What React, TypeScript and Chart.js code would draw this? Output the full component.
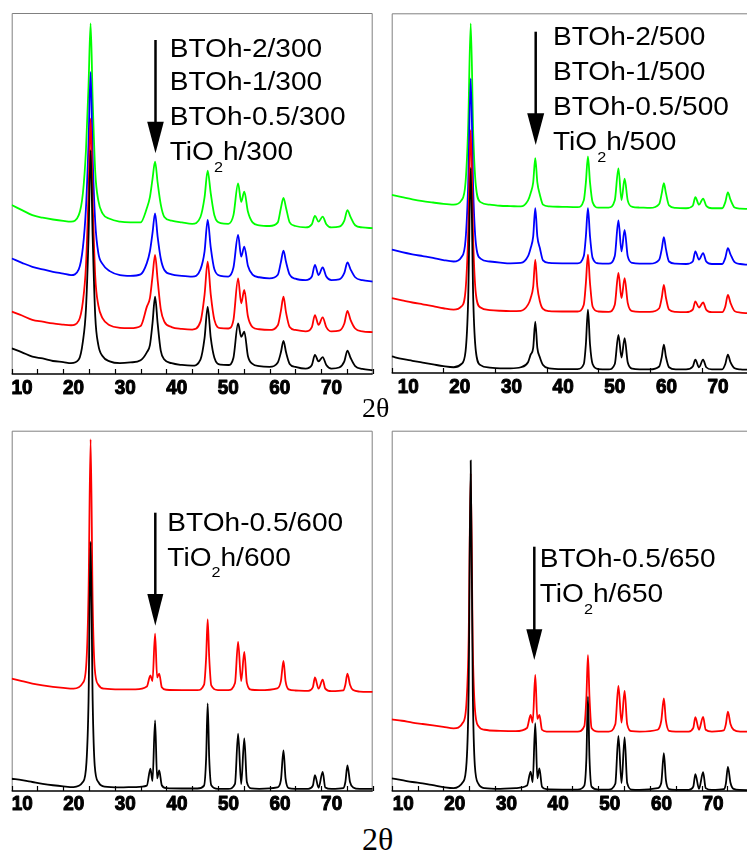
import React, { useEffect, useRef } from 'react';
import { Chart, registerables } from 'chart.js';

Chart.register(...registerables);

// ---------- data (2θ grids and intensities, arbitrary units 0–100 of panel height) ----------
const X_300 = [10, 12, 14, 16, 18, 20, 21.5, 23, 23.8, 24.4, 24.9, 25.3, 25.7, 26.2, 26.8, 27.6, 29, 31, 33, 35, 36.2, 36.8, 37.3, 37.8, 38.3, 38.9, 39.6, 41, 43, 45, 46.6, 47.4, 48.0, 48.6, 49.3, 50.5, 52, 53.0, 53.9, 54.5, 55.1, 55.8, 56.7, 58, 60, 61.6, 62.2, 62.7, 63.2, 63.9, 65, 67, 68.2, 68.8, 69.5, 70.3, 71.0, 72, 73.5, 74.5, 75.1, 75.7, 76.6, 78, 80];
const TIO2_300 = [7.1, 6.0, 4.8, 4.3, 3.6, 3.3, 3.0, 4.0, 9, 18, 38, 62, 38, 16, 8, 5, 3.5, 3.0, 3.2, 3.8, 6.0, 8, 14, 21.4, 14, 6.5, 4.0, 3.0, 2.5, 2.3, 4.0, 10, 18.6, 10, 4.5, 2.6, 2.5, 4.5, 14.0, 10.3, 11.7, 5.0, 2.8, 2.2, 2.0, 3.2, 6.0, 9.2, 6.0, 2.8, 2.0, 1.5, 2.5, 5.3, 3.5, 4.7, 2.5, 1.5, 1.8, 3.5, 6.5, 4.5, 2.2, 1.4, 1.1];
const BTO05_300 = [17.3, 16.2, 15.0, 14.5, 14.0, 13.7, 13.5, 14.8, 20, 30, 50, 70.8, 48, 27, 19, 15.5, 13.5, 12.8, 12.7, 13.3, 18.6, 21, 27, 33.0, 26, 18, 14.5, 13.0, 12.5, 12.3, 14.5, 22, 31.1, 22, 15, 12.7, 12.6, 15, 26.5, 19.6, 23.3, 16, 13, 12.4, 12.2, 13.5, 17.5, 21.4, 17, 13, 12.2, 11.8, 13, 16.3, 13.6, 15.7, 13, 11.8, 12, 14, 17.5, 15, 12.6, 11.8, 11.6];
const BTO1_300 = [32.0, 30.8, 29.7, 29.0, 28.3, 27.8, 27.4, 29, 35, 46, 64, 83.7, 60, 42, 33.5, 30.5, 28.5, 27.4, 27.2, 27.6, 30.7, 34, 39, 44.5, 38, 32, 28.8, 27.6, 27.2, 27.0, 29, 34, 42.7, 35, 29, 27.2, 27, 29.5, 38.5, 32.5, 35.3, 30, 27.5, 26.8, 26.5, 27.5, 31, 34.2, 31, 27.5, 26.4, 26, 27, 30.2, 27.4, 29.5, 27, 26, 26.2, 28, 30.9, 29, 26.8, 26, 25.6];
const BTO2_300 = [46.8, 45.4, 44.0, 43.3, 42.8, 42.4, 42.2, 44, 50, 62, 80, 97.1, 76, 56, 48, 44.5, 43, 42.2, 42, 42, 45.9, 49, 54, 58.8, 53, 47, 43.5, 42.5, 42, 41.6, 43.5, 49, 56.3, 50, 44, 41.8, 41.6, 44, 52.8, 47.7, 50.5, 45, 42, 41.2, 41, 42, 46, 48.8, 46, 42, 41, 40.6, 41.5, 43.8, 42.2, 43.6, 41.5, 40.6, 40.8, 42.5, 45.4, 43.5, 41.2, 40.6, 40.4];

const X_500 = [10, 12, 14, 16, 18, 20, 22, 23.5, 24.3, 24.8, 25.3, 25.8, 26.3, 27.2, 29, 31, 33, 35, 36.4, 36.9, 37.4, 37.8, 38.2, 38.7, 39.3, 40.5, 43, 46, 47.2, 47.6, 48.0, 48.4, 48.9, 50, 52, 53.2, 53.9, 54.5, 55.1, 55.7, 56.6, 58, 60, 61.8, 62.3, 62.7, 63.1, 63.7, 65, 67, 68.3, 68.8, 69.5, 70.3, 70.9, 72, 74, 74.6, 75.1, 75.6, 76.4, 77.5, 79];
const TIO2_500 = [4.6, 3.9, 3.4, 2.9, 2.4, 1.9, 1.6, 2.5, 6, 20, 57, 20, 6, 2.2, 1.5, 1.3, 1.3, 1.6, 3.0, 5.1, 7, 14.3, 7, 4.3, 2.2, 1.3, 1.1, 1.1, 2.5, 8, 17.6, 8, 2.5, 1.1, 1.0, 2.5, 10.6, 4.3, 9.7, 3, 1.2, 1.0, 1.0, 1.8, 4.5, 7.9, 4.5, 1.6, 1.0, 1.0, 1.8, 3.7, 1.6, 3.7, 1.6, 1.0, 1.0, 2.5, 5.1, 3.0, 1.3, 1.0, 0.9];
const BTO05_500 = [20.8, 20.2, 19.6, 19.1, 18.6, 18.0, 17.6, 18.5, 23, 38, 67.6, 36, 22, 18.2, 17.5, 17.3, 17.2, 17.3, 19, 20.8, 24, 31.5, 24, 19.9, 17.8, 17.2, 17.1, 17.1, 19, 25, 32.9, 25, 18.5, 17.1, 17.0, 19, 27.8, 20.8, 26.4, 19.5, 17.2, 17.0, 17.0, 18, 21, 24.5, 21, 17.6, 17.0, 16.9, 17.6, 19.9, 18.2, 19.6, 17.6, 16.9, 16.9, 18.5, 21.7, 19.5, 17.2, 16.8, 16.6];
const BTO1_500 = [34.3, 33.6, 33.0, 32.5, 32.0, 31.4, 31.0, 32.2, 37, 52, 81.9, 50, 36, 31.8, 31.0, 30.7, 30.5, 30.6, 32.5, 34.7, 38, 45.8, 38, 34.7, 31.3, 30.6, 30.5, 30.5, 32.5, 38, 45.8, 38, 32, 30.5, 30.4, 32.5, 42.4, 33.8, 39.8, 32.5, 30.6, 30.4, 30.4, 31.5, 34.5, 37.8, 34.5, 31, 30.4, 30.3, 31, 33.8, 31.5, 33.3, 31, 30.3, 30.3, 32, 34.7, 33, 30.8, 30.3, 30.1];
const BTO2_500 = [49.5, 48.9, 48.3, 47.8, 47.4, 47.0, 46.8, 48, 53, 68, 97.2, 66, 52, 47.5, 46.8, 46.5, 46.4, 46.3, 48, 50.0, 53, 59.7, 53, 49.5, 46.8, 46.3, 46.2, 46.1, 48, 53, 60.2, 53, 47.5, 46, 46, 48, 56.9, 48.1, 54.0, 48, 46.2, 46, 45.9, 47, 50, 52.8, 50, 46.6, 45.9, 45.8, 46.5, 48.9, 46.8, 48.5, 46.5, 45.8, 45.8, 47.5, 50.2, 48.2, 46, 45.7, 45.6];

const X_HT = [10, 12, 14, 16, 18, 20, 22, 23.8, 24.5, 24.9, 25.3, 25.7, 26.1, 26.8, 28, 31, 34, 36.2, 36.9, 37.3, 37.8, 38.2, 38.6, 39.1, 40, 43, 46, 47.3, 47.7, 48.0, 48.3, 48.7, 50, 52, 53.3, 53.9, 54.5, 55.1, 55.6, 56.5, 58, 61.5, 62.2, 62.7, 63.1, 63.7, 65, 67.5, 68.4, 68.8, 69.5, 70.3, 70.8, 72, 74.3, 74.7, 75.1, 75.6, 76.2, 77.5, 80];
const TIO2_600 = [3.4, 3.0, 2.5, 2.0, 1.6, 1.3, 1.1, 2.5, 8, 25, 69.2, 25, 7, 2.5, 1.2, 1.0, 1.1, 1.5, 6.2, 2.8, 19.6, 3.5, 5.7, 1.6, 0.8, 0.7, 0.7, 1.5, 9, 24.3, 9, 1.6, 0.6, 0.6, 2.0, 15.9, 1.9, 14.6, 2.5, 0.7, 0.6, 1.0, 3.0, 11.3, 3.5, 0.8, 0.6, 0.6, 1.5, 4.4, 0.9, 5.3, 1.0, 0.6, 0.8, 2.5, 7.1, 2.5, 1.0, 0.6, 0.6];
const BTO05_600 = [31.2, 30.5, 29.8, 29.3, 28.9, 28.6, 28.4, 30, 36, 55, 97.6, 52, 34, 29.5, 28.4, 28.2, 28.2, 29, 32.1, 30.5, 43.7, 31.5, 32.6, 28.8, 28.1, 28.0, 28.0, 29.5, 37, 47.6, 37, 29.3, 28.0, 28.0, 30, 41.4, 30.5, 38.6, 30, 28.1, 28.0, 28.5, 30.5, 36.1, 30.5, 28.2, 27.9, 27.8, 28.8, 31.5, 28.4, 30.9, 28.4, 27.7, 27.9, 29.5, 32.6, 29.5, 28, 27.6, 27.5];
const TIO2_650 = [3.5, 3.0, 2.5, 2.1, 1.6, 1.1, 0.8, 2.5, 8, 28, 91.7, 28, 7, 2.0, 0.8, 0.6, 0.8, 1.5, 5.4, 2.5, 18.8, 3.5, 6.3, 1.2, 0.5, 0.4, 0.4, 1.5, 9, 26.2, 9, 1.2, 0.4, 0.4, 2.0, 15.3, 2.2, 14.9, 2.2, 0.4, 0.3, 0.8, 2.3, 10.5, 3.0, 0.5, 0.3, 0.3, 1.2, 4.7, 0.6, 5.2, 0.8, 0.3, 0.5, 2.0, 6.7, 2.3, 0.6, 0.3, 0.2];
const BTO05_650 = [19.9, 19.5, 19.0, 18.6, 18.2, 17.8, 17.4, 19, 25, 42, 88.2, 40, 23, 18, 17, 16.7, 16.6, 17.5, 21.1, 19, 32.2, 20, 21.1, 17, 16.5, 16.5, 16.5, 18, 26, 37.7, 26, 17.5, 16.5, 16.5, 18.5, 29.2, 19, 27.8, 18.5, 16.6, 16.5, 17, 19.5, 25.7, 19.5, 16.7, 16.5, 16.5, 17.5, 20.5, 17, 20.6, 17, 16.5, 16.8, 18.5, 22.0, 18.6, 17, 16.5, 16.5];

const TICKS_5_TO_80 = [10, 15, 20, 25, 30, 35, 40, 45, 50, 55, 60, 65, 70, 75, 80];
const TICKS_5_TO_75 = [10, 15, 20, 25, 30, 35, 40, 45, 50, 55, 60, 65, 70, 75];
const TICKS_10_TO_70 = [10, 20, 30, 40, 50, 60, 70];
const TICK_LABELS = [10, 20, 30, 40, 50, 60, 70];

const LEGEND_300 = ['BTOh-2/300', 'BTOh-1/300', 'BTOh-0.5/300', 'TiO2h/300'];
const LEGEND_500 = ['BTOh-2/500', 'BTOh-1/500', 'BTOh-0.5/500', 'TiO2h/500'];
const LEGEND_600 = ['BTOh-0.5/600', 'TiO2h/600'];
const LEGEND_650 = ['BTOh-0.5/650', 'TiO2h/650'];

const BLACK = '#000000';
const RED = '#ff0000';
const BLUE = '#0000ff';
const GREEN = '#00ff00';

const SANS = '"Liberation Sans", Arial, sans-serif';

function drawLabel(ctx: CanvasRenderingContext2D, s: string, x: number, y: number) {
  ctx.save();
  ctx.translate(x, y);
  ctx.scale(1.08, 1);
  ctx.fillStyle = '#000';
  ctx.textAlign = 'left';
  ctx.textBaseline = 'alphabetic';
  ctx.font = `26px ${SANS}`;
  if (s.startsWith('TiO2')) {
    ctx.fillText('TiO', 0, 0);
    let w = ctx.measureText('TiO').width;
    ctx.font = `15px ${SANS}`;
    ctx.fillText('2', w, 11.5);
    w += ctx.measureText('2').width;
    ctx.font = `26px ${SANS}`;
    ctx.fillText(s.slice(4), w, 0);
  } else {
    ctx.fillText(s, 0, 0);
  }
  ctx.restore();
}

const decor = {
  id: 'decor',
  beforeDatasetsDraw(chart: any, _a: any, o: any) {
    const { ctx, chartArea: a } = chart;
    ctx.save();
    ctx.strokeStyle = '#808080';
    ctx.lineWidth = 1;
    ctx.beginPath();
    ctx.moveTo(a.left + 0.5, a.bottom);
    ctx.lineTo(a.left + 0.5, a.top + 0.5);
    ctx.lineTo(o.frameRight ? a.right - 0.5 : a.right, a.top + 0.5);
    if (o.frameRight) ctx.lineTo(a.right - 0.5, a.bottom);
    ctx.stroke();
    ctx.restore();
  },
  afterDraw(chart: any, _a: any, o: any) {
    const { ctx, chartArea: a } = chart;
    const xs = chart.scales.x;
    ctx.save();
    // bottom axis line
    ctx.strokeStyle = '#000';
    ctx.lineWidth = 1.5;
    ctx.beginPath();
    ctx.moveTo(a.left, a.bottom);
    ctx.lineTo(a.right, a.bottom);
    ctx.stroke();
    // inward tick marks + tick labels from the scale's ticks
    ctx.fillStyle = '#000';
    ctx.textAlign = 'center';
    ctx.textBaseline = 'alphabetic';
    for (const t of xs.ticks) {
      const px = xs.getPixelForValue(t.value);
      const rx = Math.round(px) + 0.5;
      ctx.lineWidth = 1.2;
      ctx.beginPath();
      ctx.moveTo(rx, a.bottom);
      ctx.lineTo(rx, a.bottom - 5);
      ctx.stroke();
      if (TICK_LABELS.includes(t.value)) {
        ctx.save();
        ctx.translate(px + o.labelOffset, a.bottom + o.labelDy);
        ctx.scale(0.9, 1);
        ctx.font = `bold 21px ${SANS}`;
        ctx.lineWidth = 1.1;
        ctx.lineJoin = 'round';
        ctx.strokeText(String(t.value), 0, 0);
        ctx.fillText(String(t.value), 0, 0);
        ctx.restore();
      }
    }
    // arrow
    const ar = o.arrow;
    ctx.lineWidth = 2.5;
    ctx.beginPath();
    ctx.moveTo(ar.x, ar.y0);
    ctx.lineTo(ar.x, ar.headTop + 2);
    ctx.stroke();
    ctx.beginPath();
    ctx.moveTo(ar.x - ar.hw, ar.headTop);
    ctx.lineTo(ar.x + ar.hw, ar.headTop);
    ctx.lineTo(ar.x, ar.tip);
    ctx.closePath();
    ctx.fill();
    o.lines.forEach((line: string, i: number) => drawLabel(ctx, line, o.textX, o.baselines[i]));
    ctx.restore();
  },
};

type Series = { label: string; y: number[]; color: string };
type PanelProps = {
  left: number; top: number; w: number; h: number;
  pad: { left: number; right: number; top: number };
  x: number[]; series: Series[]; xMax: number;
  ticks: number[]; labelOffset: number; labelDy: number;
  frameRight: boolean;
  lines: string[]; textX: number; baselines: number[];
  arrow: { x: number; y0: number; headTop: number; tip: number; hw: number };
};

function Panel(p: PanelProps) {
  const ref = useRef<HTMLCanvasElement | null>(null);
  useEffect(() => {
    const chart = new Chart(ref.current as HTMLCanvasElement, {
      type: 'line',
      data: {
        datasets: p.series.map((s) => ({
          label: s.label,
          data: p.x.map((x, i) => ({ x, y: s.y[i] })),
          borderColor: s.color,
          borderWidth: 1.8,
          pointRadius: 0,
          fill: false,
          cubicInterpolationMode: 'monotone',
        })),
      } as any,
      options: {
        animation: false,
        responsive: false,
        events: [],
        layout: { padding: { left: p.pad.left, right: p.pad.right, top: p.pad.top, bottom: 0 } },
        scales: {
          x: {
            type: 'linear',
            min: 10,
            max: p.xMax,
            grid: { display: false, drawTicks: false },
            border: { display: false },
            afterBuildTicks: (s: any) => { s.ticks = p.ticks.map((v) => ({ value: v })); },
            afterFit: (s: any) => { s.height = 30; s.paddingLeft = 0; s.paddingRight = 0; },
            ticks: { display: false },
          },
          y: { display: false, min: 0, max: 100 },
        },
        plugins: {
          legend: { display: false },
          tooltip: { enabled: false },
          decor: {
            frameRight: p.frameRight,
            lines: p.lines,
            textX: p.textX,
            baselines: p.baselines,
            arrow: p.arrow,
            labelOffset: p.labelOffset,
            labelDy: p.labelDy,
          },
        } as any,
      } as any,
      plugins: [decor as any],
    });
    return () => chart.destroy();
  }, []);
  return (
    <canvas
      ref={ref}
      width={p.w}
      height={p.h}
      style={{ position: 'absolute', left: p.left, top: p.top, width: p.w, height: p.h }}
    />
  );
}

const SERIF = '"Liberation Serif", "DejaVu Serif", serif';

export default function App() {
  useEffect(() => {
    document.body.style.margin = '0';
  }, []);
  return (
    <div style={{ position: 'relative', width: 747, height: 850, overflow: 'hidden', background: '#fff' }}>
      <Panel
        left={0} top={0} w={380} h={404}
        pad={{ left: 11.7, right: 7.3, top: 13 }}
        x={X_300}
        series={[
          { label: 'TiO2h/300', y: TIO2_300, color: BLACK },
          { label: 'BTOh-0.5/300', y: BTO05_300, color: RED },
          { label: 'BTOh-1/300', y: BTO1_300, color: BLUE },
          { label: 'BTOh-2/300', y: BTO2_300, color: GREEN },
        ]}
        xMax={80} ticks={TICKS_5_TO_80} labelOffset={10.3} labelDy={19.5} frameRight={true}
        lines={LEGEND_300} textX={169.7} baselines={[56.7, 90, 125, 160]}
        arrow={{ x: 155.5, y0: 40, headTop: 121.7, tip: 153.3, hw: 8.3 }}
      />
      <Panel
        left={380} top={0} w={367} h={403}
        pad={{ left: 11.7, right: 0, top: 13.3 }}
        x={X_500}
        series={[
          { label: 'TiO2h/500', y: TIO2_500, color: BLACK },
          { label: 'BTOh-0.5/500', y: BTO05_500, color: RED },
          { label: 'BTOh-1/500', y: BTO1_500, color: BLUE },
          { label: 'BTOh-2/500', y: BTO2_500, color: GREEN },
        ]}
        xMax={78.8} ticks={TICKS_10_TO_70} labelOffset={16.5} labelDy={19.5} frameRight={false}
        lines={LEGEND_500} textX={173} baselines={[45, 80, 115, 150]}
        arrow={{ x: 155.7, y0: 31.7, headTop: 113.3, tip: 145, hw: 8.5 }}
      />
      <Panel
        left={0} top={417} w={380} h={404}
        pad={{ left: 11.7, right: 7.3, top: 13.7 }}
        x={X_HT}
        series={[
          { label: 'TiO2h/600', y: TIO2_600, color: BLACK },
          { label: 'BTOh-0.5/600', y: BTO05_600, color: RED },
        ]}
        xMax={80} ticks={TICKS_5_TO_80} labelOffset={10.5} labelDy={18.8} frameRight={true}
        lines={LEGEND_600} textX={167.3} baselines={[113.7, 148.7]}
        arrow={{ x: 155.3, y0: 95.7, headTop: 177, tip: 208.7, hw: 8 }}
      />
      <Panel
        left={380} top={417} w={367} h={404}
        pad={{ left: 11.7, right: 0, top: 13.7 }}
        x={X_HT}
        series={[
          { label: 'TiO2h/650', y: TIO2_650, color: BLACK },
          { label: 'BTOh-0.5/650', y: BTO05_650, color: RED },
        ]}
        xMax={78.8} ticks={TICKS_5_TO_75} labelOffset={11.5} labelDy={18.8} frameRight={false}
        lines={LEGEND_650} textX={159.7} baselines={[150.3, 185.3]}
        arrow={{ x: 154.3, y0: 129.7, headTop: 212.3, tip: 243, hw: 8 }}
      />
      <span style={{ position: 'absolute', left: 362, top: 394, fontFamily: SERIF, fontSize: 28, lineHeight: 1, color: '#000' }}>2θ</span>
      <span style={{ position: 'absolute', left: 362, top: 823, fontFamily: SERIF, fontSize: 32, lineHeight: 1, color: '#000' }}>2θ</span>
    </div>
  );
}
